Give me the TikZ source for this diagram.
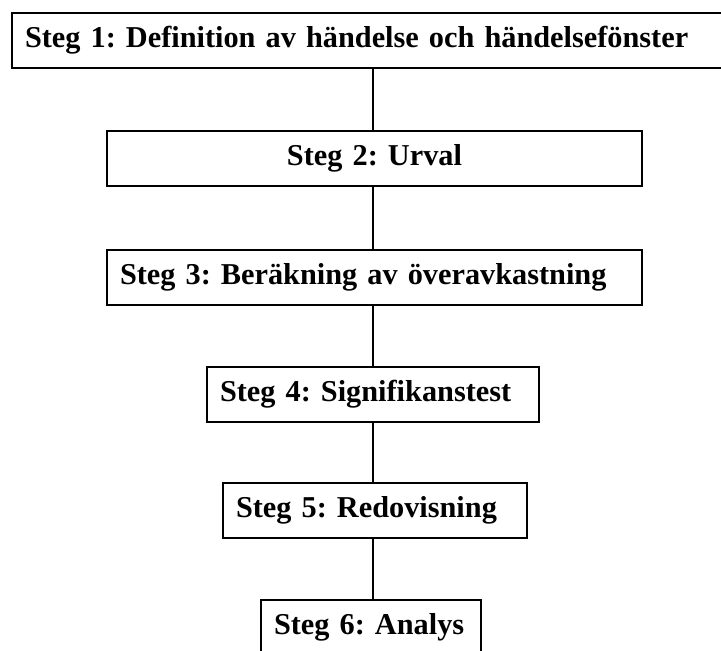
\documentclass[tikz,border=0pt]{standalone}
\usepackage{fontspec}
\setmainfont{Liberation Serif}
\frenchspacing

\begin{document}
\begin{tikzpicture}[
          x=1pt, y=-1pt,
          stepbox/.style={
            draw,
            line width=2.4pt,
            outer sep=0pt,
            inner xsep=13pt,
            inner ysep=0pt,
            anchor=north west,
            minimum height=55pt,
            align=left,
            font=\bfseries\fontsize{30.3}{34}\selectfont,
          },
          link/.style={line width=2pt},
        ]
        \useasboundingbox (0,0) rectangle (721,651);
        \node[stepbox, text width=685pt] at (12,13) (s1) {Steg 1: Definition av händelse och händelsefönster} ;
        \node[stepbox, text width=509pt, align=center] at (107,131) (s2) {Steg 2: Urval} ;
        \node[stepbox, text width=509pt] at (107,250) (s3) {Steg 3: Beräkning av överavkastning} ;
        \node[stepbox, text width=306pt] at (207,367) (s4) {Steg 4: Signifikanstest} ;
        \node[stepbox, text width=278pt] at (223,483) (s5) {Steg 5: Redovisning} ;
        \node[stepbox, text width=194pt] at (261,600) (s6) {Steg 6: Analys} ;
        \coordinate (spine) at (373,0) ;
        \draw[link] (s1.south -| spine)--(s2.north -| spine) ;
        \draw[link] (s2.south -| spine)--(s3.north -| spine) ;
        \draw[link] (s3.south -| spine)--(s4.north -| spine) ;
        \draw[link] (s4.south -| spine)--(s5.north -| spine) ;
        \draw[link] (s5.south -| spine)--(s6.north -| spine) ;
        \end{tikzpicture}
\end{document}
